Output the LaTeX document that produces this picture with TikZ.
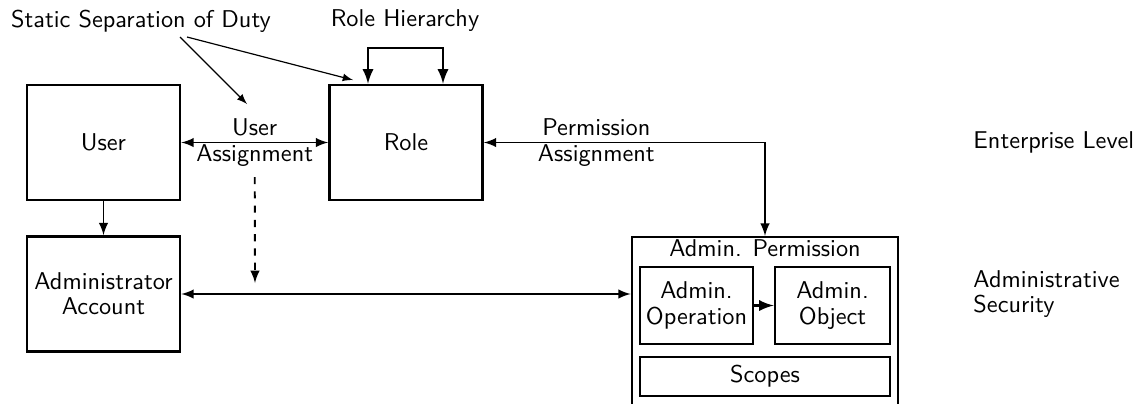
\documentclass[tikz,border=0pt]{standalone}
\begin{document}
\begin{tikzpicture}[
        x=0.42pt, y=-0.42pt,
        every node/.style={font=\sffamily\fontsize{10.2}{10.6}\selectfont},
        box/.style={rectangle, draw=black, line width=1.1pt, align=center, inner sep=1pt},
        bigbox/.style={box, minimum width=64.3pt, minimum height=48.3pt},
        link/.style={line width=0.8pt, black},
        pointer/.style={line width=0.5pt, black, -latex},
        label_txt/.style={align=center, inner sep=1pt},
    ]

        \useasboundingbox (0, 0) rectangle (1138, 403);
        \clip (0, 0) rectangle (1138, 403);

        % enterprise level
        \node[bigbox] (user) at (103.5, 142.5) {User};
        \node[bigbox] (role) at (406, 142.5) {Role};

        % administrative security
        \node[bigbox] (account) at (103.5, 294) {Administrator\\Account};
        \node[box, minimum width=111.7pt, minimum height=78pt] (perm) at (765, 330) {};
        \node[anchor=north, inner sep=1.5pt] (permtitle) at (perm.north) {Admin. Permission};
        \node[box, minimum width=47.5pt, minimum height=32.3pt] (operation) at (696.5, 305.5) {Admin.\\Operation};
        \node[box, minimum width=48.3pt, minimum height=32.3pt] (object) at (832.5, 305.5) {Admin.\\Object};
        \node[box, minimum width=105pt, minimum height=16.4pt] (scopes) at (765, 376.5) {Scopes};

        % captions
        \node (ssd) at (141, 21) {Static Separation of Duty};
        \node (hierarchy) at (405, 21) {Role Hierarchy};
        \node[anchor=west, align=left, inner sep=0pt] (enterprise) at (973, 142) {Enterprise Level};
        \node[anchor=west, align=left, inner sep=0pt] (adminsec) at (973, 294) {Administrative\\Security};

        \coordinate (ssd_a) at (180, 37);
        \coordinate (ssd_b) at (187, 37);
        \coordinate (ssd_ua) at (247, 104);
        \coordinate (ssd_role) at (353, 80);
        \coordinate (rh_left) at (368, 48);
        \coordinate (rh_right) at (443, 48);
        \coordinate (dash_end) at (255, 283);

        \draw[link, latex-latex] (user) -- node[label_txt] (ua) {User\\Assignment} (role);
        \draw[link, latex-latex] (role.east) -| node[label_txt, pos=0.2] (pa) {Permission\\Assignment} (perm.north);
        \draw[link, latex-latex] (account) -- (perm.west |- account);
        \draw[link, -latex] (user) -- (account);
        \draw[link, dashed, -latex] (ua.south |- 0, 177) -- (dash_end);

        \draw[line width=1.1pt, latex-latex] (rh_left |- role.north) -- (rh_left) -- (rh_right) -- (rh_right |- role.north);
        \draw[line width=1.1pt, -latex] (operation) -- (object);

        \draw[pointer] (ssd_a) -- (ssd_ua);
        \draw[pointer] (ssd_b) -- (ssd_role);
    \end{tikzpicture}
\end{document}
